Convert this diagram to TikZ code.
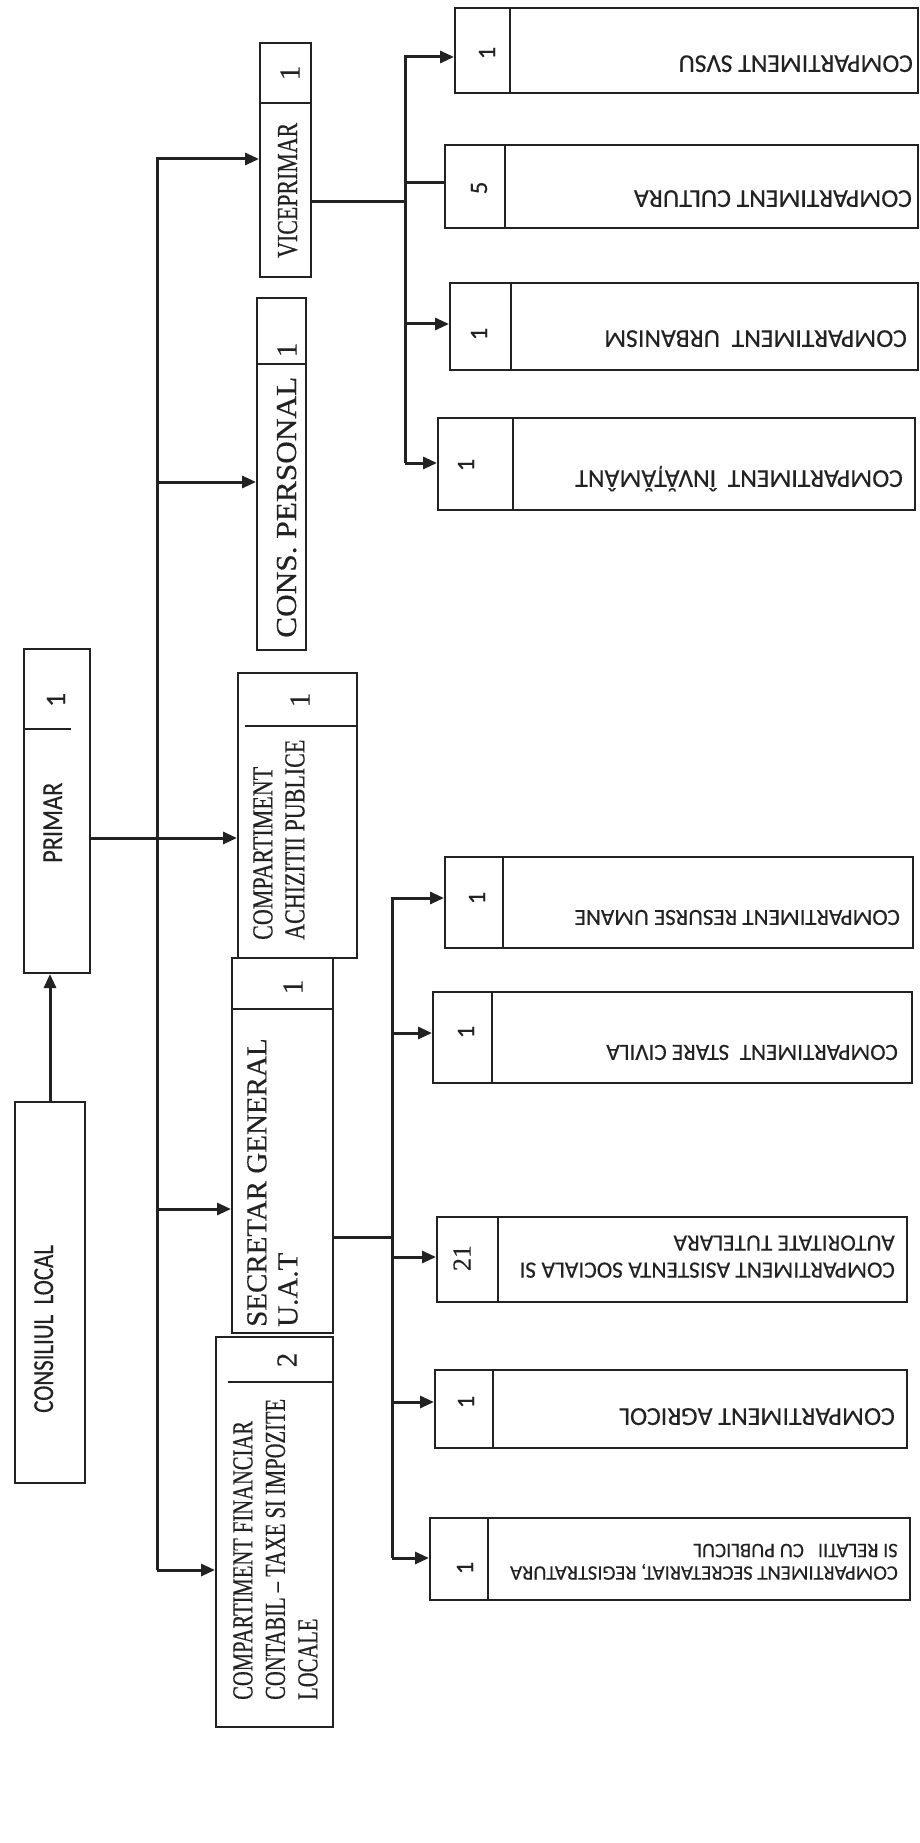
\documentclass[tikz,border=0pt]{standalone}
\usepackage{fontspec}
\setmainfont{Liberation Serif}
\usetikzlibrary{arrows.meta}
\definecolor{ink}{RGB}{34,34,34}
\newcommand\mkbox[5]{\node[box, minimum width={(#4-#2)*1pt}, minimum height={(#5-#3)*1pt}] (#1) at ({(#2+#4)/2},{-(#3+#5)/2}) {};}
\newcommand\srf[3]{\fontspec{Liberation Serif}[FakeStretch=#3,FakeBold=0.4]\fontsize{#1pt}{#2pt}\selectfont}
\newcommand\sns[3]{\fontspec{Carlito}[FakeStretch=#3,FakeBold=0.25]\fontsize{#1pt}{#2pt}\selectfont}
\begin{document}
\begin{tikzpicture}[x=1pt,y=1pt,
 box/.style={draw=ink,line width=2pt,inner sep=0pt},
 conn/.style={draw=ink,line width=3pt},
 arr/.style={conn,-{Triangle[length=14pt,width=12pt]}},
 div/.style={draw=ink,line width=1.6pt},
 vt/.style={rotate=90,inner sep=0pt,text=ink},
 ut/.style={rotate=180,inner sep=0pt,text=ink}]
\fill[white] (0,0) rectangle (920,-1843);
\useasboundingbox (0,0) rectangle (920,-1843);
% ---------- boxes ----------
\mkbox{consiliu}{15}{1102}{85}{1483}
\mkbox{primar}{24}{649}{90}{973}
\mkbox{vp}{260}{43}{311}{277}
\mkbox{cp}{257}{298}{306}{650}
\mkbox{ach}{238}{673}{357}{958}
\mkbox{sg}{232}{958}{333}{1333}
\mkbox{fin}{216}{1337}{333}{1727}
\mkbox{svsu}{455}{8}{918}{93}
\mkbox{cult}{445}{145}{918}{228}
\mkbox{urb}{450}{283}{918}{370}
\mkbox{inv}{438}{418}{915}{510}
\mkbox{ru}{445}{857}{913}{948}
\mkbox{sc}{433}{992}{912}{1083}
\mkbox{asis}{437}{1217}{907}{1302}
\mkbox{agr}{435}{1370}{907}{1448}
\mkbox{secr}{430}{1518}{910}{1600}
% ---------- dividers ----------
\draw[div] (25,-729) -- (71,-729);
\draw[div] (260,-103) -- (311,-103);
\draw[div] (257,-364) -- (306,-364);
\draw[div] (245,-726) -- (357,-726);
\draw[div] (232,-1009) -- (333,-1009);
\draw[div] (228,-1382) -- (333,-1382);
\draw[div] (510,-8) -- (510,-93);
\draw[div] (505,-145) -- (505,-228);
\draw[div] (511,-283) -- (511,-370);
\draw[div] (513,-418) -- (513,-510);
\draw[div] (503,-857) -- (503,-948);
\draw[div] (492,-992) -- (492,-1083);
\draw[div] (498,-1217) -- (498,-1302);
\draw[div] (493,-1370) -- (493,-1448);
\draw[div] (488,-1518) -- (488,-1600);
% ---------- left texts ----------
\node[vt,anchor=base west,font=\sns{29}{32}{0.79}] (tcons) at (53,-1413) {CONSILIUL\ \ LOCAL};
\node[vt,anchor=base west,font=\sns{29}{32}{0.84}] (tprim) at (62,-863) {PRIMAR};
\node[vt,font=\sns{28}{32}{1}] (nprim) at (56,-700) {1};
\node[vt,anchor=base west,font=\srf{29}{32}{0.755}] (tvp) at (297,-258) {VICEPRIMAR};
\node[vt,font=\srf{29}{32}{1}] (nvp) at (290,-73) {1};
\node[vt,anchor=base west,font=\srf{29}{32}{1.08}] (tcp) at (296,-638) {CONS. PERSONAL};
\node[vt,font=\srf{29}{32}{1}] (ncp) at (287,-350) {1};
\node[vt,anchor=north west,align=left,font=\srf{29}{32}{0.76}] (tach) at (253,-940) {COMPARTIMENT\\ACHIZITII PUBLICE};
\node[vt,font=\srf{29}{32}{1}] (nach) at (300,-700) {1};
\node[vt,anchor=north west,align=left,font=\srf{29}{31}{1.0}] (tsg) at (247,-1327) {SECRETAR GENERAL\\U.A.T};
\node[vt,font=\srf{29}{32}{1}] (nsg) at (293,-987) {1};
\node[vt,anchor=north west,align=left,font=\srf{29}{32.5}{0.71}] (tfin) at (233,-1700) {COMPARTIMENT FINANCIAR\\CONTABIL – TAXE SI IMPOZITE\\LOCALE};
\node[vt,font=\srf{29}{32}{1}] (nfin) at (287,-1360) {2};
% ---------- right texts ----------
\node[ut,anchor=base west,font=\sns{25.6}{30}{1}] (tsvsu) at (913,-55.5) {COMPARTIMENT SVSU};
\node[ut,anchor=base west,font=\sns{25.7}{30}{1}] (tcult) at (912,-190.4) {COMPARTIMENT CULTURA};
\node[ut,anchor=base west,font=\sns{25.7}{30}{1}] (turb) at (907,-330.4) {COMPARTIMENT\ \ URBANISM};
\node[ut,anchor=base west,font=\sns{25.7}{30}{1}] (tinv) at (903,-470.4) {COMPARTIMENT\ \ ÎNVĂȚĂMÂNT};
\node[ut,anchor=base west,font=\sns{23.1}{27}{1}] (tru) at (900,-910.1) {COMPARTIMENT RESURSE UMANE};
\node[ut,anchor=base west,font=\sns{23.2}{27}{1}] (tsc) at (898,-1045) {COMPARTIMENT\ \ STARE CIVILA};
\node[ut,anchor=north west,align=left,font=\sns{23.4}{27}{1}] (tasis) at (895,-1278) {COMPARTIMENT ASISTENTA SOCIALA SI\\AUTORITATE TUTELARA};
\node[ut,anchor=base west,font=\sns{25.9}{30}{1}] (tagr) at (895,-1408.3) {COMPARTIMENT AGRICOL};
\node[ut,anchor=north west,align=left,font=\sns{20.6}{22.5}{1}] (tsecr) at (898,-1580) {COMPARTIMENT SECRETARIAT, REGISTRATURA\\SI RELATII\ \ \ CU PUBLICUL};
% numbers
\node[vt,font=\sns{25}{30}{1}] (nsvsu) at (487,-53) {1};
\node[vt,font=\sns{25}{30}{1}] (ncult) at (479,-188) {5};
\node[vt,font=\sns{25}{30}{1}] (nurb) at (479,-334) {1};
\node[vt,font=\sns{25}{30}{1}] (ninv) at (466,-465) {1};
\node[vt,font=\sns{25}{30}{1}] (nru) at (477,-898) {1};
\node[vt,font=\sns{25}{30}{1}] (nsc) at (466,-1032) {1};
\node[vt,font=\srf{26}{30}{1}] (nasis) at (462,-1258) {21};
\node[vt,font=\sns{25}{30}{1}] (nagr) at (466,-1402) {1};
\node[vt,font=\sns{25}{30}{1}] (nsecr) at (465,-1568) {1};
% ---------- connectors ----------
\draw[arr] (consiliu.north) -- (consiliu.north |- primar.south);
\coordinate (B1) at (157,-159);
\coordinate (B2) at (157,-482);
\coordinate (B3) at (157,-838);
\coordinate (B4) at (157,-1209);
\coordinate (B5) at (157,-1570);
\draw[arr] (B5) -- (B1) -- (vp.west |- B1);
\draw[arr] (B2) -- (cp.west |- B2);
\draw[conn] (primar.east |- B3) -- (B3);
\draw[arr] (B3) -- (ach.west |- B3);
\draw[arr] (B4) -- (sg.west |- B4);
\draw[arr] (B5) -- (fin.west |- B5);
% viceprimar branch
\coordinate (V0) at (405,-202);
\coordinate (V1) at (405,-57);
\coordinate (V2) at (405,-183);
\coordinate (V3) at (405,-324);
\coordinate (V4) at (405,-463);
\draw[conn] (vp.east |- V0) -- (V0);
\draw[arr] (V4) -- (V1) -- (svsu.west |- V1);
\draw[conn] (V2) -- (cult.west |- V2);
\draw[arr] (V3) -- (urb.west |- V3);
\draw[arr] (V4) -- (inv.west |- V4);
% secretar branch
\coordinate (S0) at (392,-1237);
\coordinate (S1) at (392,-898);
\coordinate (S2) at (392,-1033);
\coordinate (S3) at (392,-1257);
\coordinate (S4) at (392,-1402);
\coordinate (S5) at (392,-1558);
\draw[conn] (sg.east |- S0) -- (S0);
\draw[arr] (S5) -- (S1) -- (ru.west |- S1);
\draw[arr] (S2) -- (sc.west |- S2);
\draw[arr] (S3) -- (asis.west |- S3);
\draw[arr] (S4) -- (agr.west |- S4);
\draw[arr] (S5) -- (secr.west |- S5);
\end{tikzpicture}
\end{document}
